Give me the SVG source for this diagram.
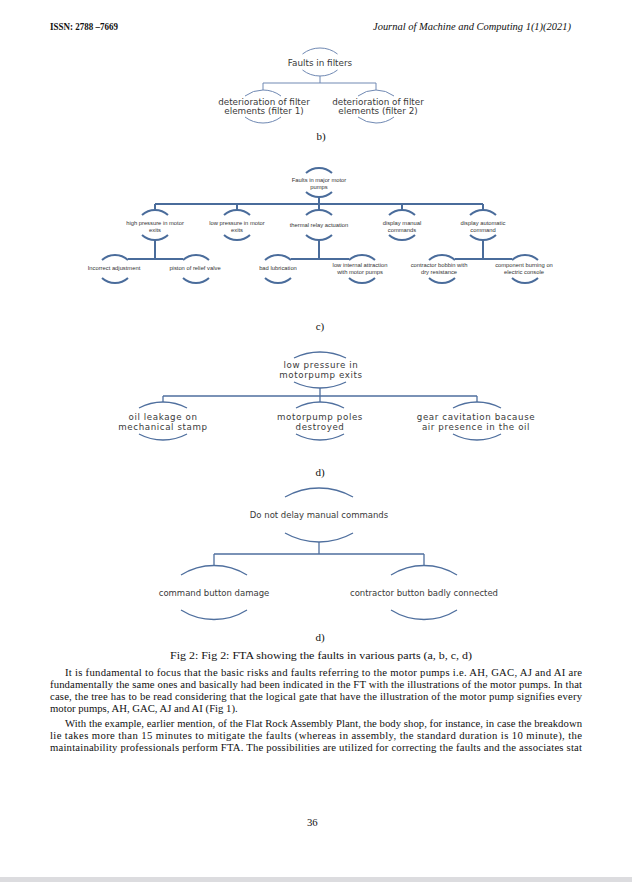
<svg xmlns="http://www.w3.org/2000/svg" width="632" height="882" viewBox="0 0 632 882">
<style>
.arcb{fill:none;stroke:#7089b3;stroke-width:1}
.arcc{fill:none;stroke:#4a6c9b;stroke-width:2}
.arcd{fill:none;stroke:#4f6f9e;stroke-width:1.3}
.tb{font-family:"DejaVu Sans",Verdana,sans-serif;font-size:8.8px;fill:#3a3a3a;text-anchor:middle}
.tc{font-family:"Liberation Sans",Arial,sans-serif;font-size:5.8px;fill:#333;text-anchor:middle}
.td{font-family:"DejaVu Sans",Verdana,sans-serif;font-size:8.7px;letter-spacing:0.6px;fill:#3a3a3a;text-anchor:middle}
.te{font-family:"DejaVu Sans",Verdana,sans-serif;font-size:8.5px;fill:#3a3a3a;text-anchor:middle}
.serif{font-family:"Liberation Serif","Times New Roman",serif;font-size:10.7px;fill:#111}
.lbl{font-family:"Liberation Serif","Times New Roman",serif;font-size:11px;fill:#111;text-anchor:middle}
</style>
<rect width="632" height="882" fill="#fff"/>
<g id="header">
<text x="50" y="30" class="serif" font-weight="bold" textLength="68" lengthAdjust="spacingAndGlyphs">ISSN: 2788 –7669</text>
<text x="373" y="30" class="serif" font-style="italic" textLength="198" lengthAdjust="spacingAndGlyphs">Journal of Machine and Computing 1(1)(2021)</text>
</g>
<!-- Tree b -->
<g id="connectors-b" class="arcb">
<path d="M320,76 V83 M263,83 H376 M263,83 V90 M376,83 V90"/>
</g>
<g id="b-root">
<path class="arcb" d="M302.5,54 A28.5,28.5 0 0 1 337.5,54 M302.5,70 A28.5,28.5 0 0 0 337.5,70"/>
<text x="320" y="66" class="tb">Faults in filters</text>
</g>
<g id="b-filter1">
<path class="arcb" d="M245,96 A30,30 0 0 1 281,96 M245,117 A30,30 0 0 0 281,117"/>
<text x="264" y="105" class="tb">deterioration of filter</text>
<text x="264" y="114" class="tb">elements (filter 1)</text>
</g>
<g id="b-filter2">
<path class="arcb" d="M358,96 A30,30 0 0 1 394,96 M358,117 A30,30 0 0 0 394,117"/>
<text x="378" y="105" class="tb">deterioration of filter</text>
<text x="378" y="114" class="tb">elements (filter 2)</text>
</g>
<text x="321" y="140" class="lbl">b)</text>
<!-- Tree c -->
<g id="connectors-c" class="arcc">
<path d="M319,197 V204 M155,204 H483 M155,204 V210 M237,204 V210 M319,204 V210 M402,204 V210 M483,204 V210"/>
<path d="M155,240 V259 M128,259 H183 M319,240 V259 M291,259 H349 M483,240 V259 M455,259 H512"/>
</g>
<g id="c-root">
<path class="arcc" d="M306,173 A19.4,19.4 0 0 1 332,173 M306,192 A19.4,19.4 0 0 0 332,192"/>
<text x="319" y="182" class="tc">Faults in major motor</text>
<text x="319" y="189" class="tc">pumps</text>
</g>
<g id="c-high">
<path class="arcc" d="M142,215 A19.4,19.4 0 0 1 168,215 M142,235 A19.4,19.4 0 0 0 168,235"/>
<text x="155" y="225" class="tc">high pressure in motor</text>
<text x="155" y="231.5" class="tc">exits</text>
</g>
<g id="c-low">
<path class="arcc" d="M224,215 A19.4,19.4 0 0 1 250,215 M224,235 A19.4,19.4 0 0 0 250,235"/>
<text x="237" y="225" class="tc">low pressure in motor</text>
<text x="237" y="231.5" class="tc">exits</text>
</g>
<g id="c-thermal">
<path class="arcc" d="M306,215 A19.4,19.4 0 0 1 332,215 M306,235 A19.4,19.4 0 0 0 332,235"/>
<text x="319" y="227" class="tc">thermal relay actuation</text>
</g>
<g id="c-manual">
<path class="arcc" d="M389,215 A19.4,19.4 0 0 1 415,215 M389,235 A19.4,19.4 0 0 0 415,235"/>
<text x="402" y="225" class="tc">display manual</text>
<text x="402" y="231.5" class="tc">commands</text>
</g>
<g id="c-automatic">
<path class="arcc" d="M470,215 A19.4,19.4 0 0 1 496,215 M470,235 A19.4,19.4 0 0 0 496,235"/>
<text x="483" y="225" class="tc">display automatic</text>
<text x="483" y="231.5" class="tc">command</text>
</g>
<g id="c-incorrect">
<path class="arcc" d="M102,260 A19.4,19.4 0 0 1 128,260 M102,278 A19.4,19.4 0 0 0 128,278"/>
<text x="114" y="270" class="tc">Incorrect adjustment</text>
</g>
<g id="c-piston">
<path class="arcc" d="M183,260 A19.4,19.4 0 0 1 209,260 M183,278 A19.4,19.4 0 0 0 209,278"/>
<text x="195" y="270" class="tc">piston of relief valve</text>
</g>
<g id="c-lubrication">
<path class="arcc" d="M265,260 A19.4,19.4 0 0 1 291,260 M265,278 A19.4,19.4 0 0 0 291,278"/>
<text x="278" y="270" class="tc">bad lubrication</text>
</g>
<g id="c-attraction">
<path class="arcc" d="M349,260 A19.4,19.4 0 0 1 375,260 M349,278 A19.4,19.4 0 0 0 375,278"/>
<text x="360" y="267" class="tc">low internal attraction</text>
<text x="360" y="274" class="tc">with motor pumps</text>
</g>
<g id="c-bobbin">
<path class="arcc" d="M429,260 A19.4,19.4 0 0 1 455,260 M429,278 A19.4,19.4 0 0 0 455,278"/>
<text x="439" y="267" class="tc">contractor bobbin with</text>
<text x="439" y="274" class="tc">dry resistance</text>
</g>
<g id="c-burning">
<path class="arcc" d="M512,260 A19.4,19.4 0 0 1 538,260 M512,278 A19.4,19.4 0 0 0 538,278"/>
<text x="524" y="267" class="tc">component burning on</text>
<text x="524" y="274" class="tc">electric console</text>
</g>
<text x="320" y="330" class="lbl">c)</text>
<!-- Tree d1 -->
<g id="connectors-d1" class="arcd">
<path d="M320,388 V396 M163,396 H477 M163,396 V402 M320,396 V402 M477,396 V402"/>
</g>
<g id="d1-root">
<path class="arcd" d="M294,358 A59.3,59.3 0 0 1 346,358 M294,382 A59.3,59.3 0 0 0 346,382"/>
<text x="321" y="368" class="td">low pressure in</text>
<text x="321" y="377.5" class="td">motorpump exits</text>
</g>
<g id="d1-oil">
<path class="arcd" d="M139,408 A51,51 0 0 1 187,408 M139,434 A51,51 0 0 0 187,434"/>
<text x="163" y="420" class="td">oil leakage on</text>
<text x="163" y="429.5" class="td">mechanical stamp</text>
</g>
<g id="d1-poles">
<path class="arcd" d="M296,408 A51,51 0 0 1 344,408 M296,434 A51,51 0 0 0 344,434"/>
<text x="320" y="420" class="td">motorpump poles</text>
<text x="320" y="429.5" class="td">destroyed</text>
</g>
<g id="d1-gear">
<path class="arcd" d="M453,408 A51,51 0 0 1 501,408 M453,434 A51,51 0 0 0 501,434"/>
<text x="476" y="420" class="td">gear cavitation bacause</text>
<text x="476" y="429.5" class="td">air presence in the oil</text>
</g>
<text x="320" y="476" class="lbl">d)</text>
<!-- Tree d2 -->
<g id="connectors-d2" class="arcd">
<path d="M319,542 V554 M214,554 H424 M214,554 V565 M424,554 V565"/>
</g>
<g id="d2-root">
<path class="arcd" d="M285,497 A68.7,68.7 0 0 1 353,497 M285,533 A68.7,68.7 0 0 0 353,533"/>
<text x="319" y="518" class="te">Do not delay manual commands</text>
</g>
<g id="d2-command">
<path class="arcd" d="M181,575 A62,62 0 0 1 247,575 M181,610 A62,62 0 0 0 247,610"/>
<text x="214" y="596" class="te">command button damage</text>
</g>
<g id="d2-contractor">
<path class="arcd" d="M391,575 A62,62 0 0 1 457,575 M391,610 A62,62 0 0 0 457,610"/>
<text x="424" y="596" class="te">contractor button badly connected</text>
</g>
<text x="320" y="641" class="lbl">d)</text>
<g id="body">
<text x="170" y="659" class="serif" textLength="302" lengthAdjust="spacingAndGlyphs">Fig 2: Fig 2: FTA showing the faults in various parts (a, b, c, d)</text>
<text x="65" y="676" class="serif" textLength="517" lengthAdjust="spacing">It is fundamental to focus that the basic risks and faults referring to the motor pumps i.e. AH, GAC, AJ and AI are</text>
<text x="50" y="688" class="serif" textLength="532" lengthAdjust="spacing">fundamentally the same ones and basically had been indicated in the FT with the illustrations of the motor pumps. In that</text>
<text x="50" y="700" class="serif" textLength="532" lengthAdjust="spacing">case, the tree has to be read considering that the logical gate that have the illustration of the motor pump signifies every</text>
<text x="50" y="712" class="serif">motor pumps, AH, GAC, AJ and AI (Fig 1).</text>
<text x="65" y="727" class="serif" textLength="517" lengthAdjust="spacing">With the example, earlier mention, of the Flat Rock Assembly Plant, the body shop, for instance, in case the breakdown</text>
<text x="50" y="739" class="serif" textLength="532" lengthAdjust="spacing">lie takes more than 15 minutes to mitigate the faults (whereas in assembly, the standard duration is 10 minute), the</text>
<text x="50" y="751" class="serif" textLength="532" lengthAdjust="spacing">maintainability professionals perform FTA. The possibilities are  utilized for correcting the faults and the associates stat</text>
<text x="307" y="826" class="serif">36</text>
</g>
<rect x="0" y="877" width="632" height="5" fill="#dcdcdf"/>
</svg>
